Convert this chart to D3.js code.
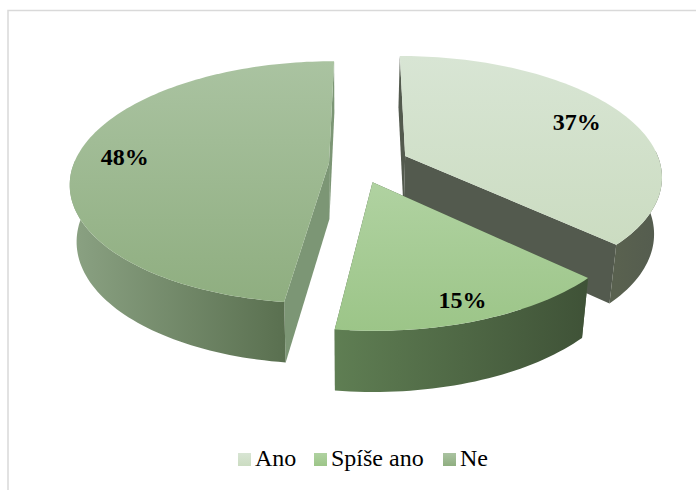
<!DOCTYPE html>
<html lang="en">
<head>
<meta charset="utf-8">
<script src="https://d3js.org/d3.v7.min.js"></script>
<style type="text/css">
body { margin: 0; background: #fff; }
text { font-family: "Liberation Serif", serif; fill: #000; }
</style>
</head>
<body>
<div id="chart"></div>
<script type="text/javascript">

// data
var categories = ["Ano", "Spíše ano", "Ne"];
var values = [37, 15, 48];
var labelText = ["37%", "15%", "48%"];

// colours: top surface, outer wall, cut face
var topColors = [["#d8e5d4", "#cbdcc1"], ["#b0d2a1", "#9cc588"], ["#aac3a1", "#8fae80"]];
var wallColors = [["#59614f", "#545c4f"], ["#5f7e53", "#3f5237"], ["#8ba283", "#5a7050"]];
var faceColors = ["#535a4e", "#4a5f41", "#7c9675"];

// layout: slice shift in plane units, label distance from apex
var explode = [[0.155, 0.06], [0.025, -0.16], [-0.145, 0.0]];
var labelRadius = [0.785, 0.87, 0.81];
var legendX = [238, 314, 443];

var width = 696, height = 490;

// plane to screen perspective
var cx = 366, cy = 163, rx = 255, ry = 118, persp = 0.159, vanishX = 345;
var depth = 56, shrink = 0.975;

function project(u, v) {
  var w = 1 + persp * v;
  return [cx + rx * u / w, cy - ry * v / w];
}
function lower(u, v) {
  var p = project(u, v);
  return [vanishX + (p[0] - vanishX) * shrink, p[1] + depth * (1 - 0.08 * v)];
}

var svg = d3.select("#chart").append("svg")
  .attr("width", width).attr("height", height)
  .style("display", "block");

var defs = svg.append("defs");

function gradient(id, horizontal, c0, c1, x0, x1) {
  var g = defs.append("linearGradient").attr("id", id)
    .attr("gradientUnits", horizontal === null ? "objectBoundingBox" : "userSpaceOnUse");
  if (horizontal === null) {
    g.attr("x1", 0).attr("y1", 0).attr("x2", 0).attr("y2", 1);
  } else if (horizontal) {
    g.attr("x1", x0).attr("y1", 0).attr("x2", x1).attr("y2", 0);
  }
  g.append("stop").attr("offset", 0).attr("stop-color", c0);
  g.append("stop").attr("offset", 1).attr("stop-color", c1);
}

// frame
svg.append("path")
  .attr("d", "M8,490V10.5H696")
  .attr("fill", "none").attr("stroke", "#d9d9d9").attr("stroke-width", 1.5);

var pie = d3.pie().sort(null).value(function(d) { return d; });
var arcs = pie(values);
var line = d3.line();

function sliceAngles(a) {
  var n = Math.ceil((a.endAngle - a.startAngle) * 40);
  return d3.range(n + 1).map(function(i) {
    return a.startAngle + (a.endAngle - a.startAngle) * i / n;
  });
}

// far slices first so the near slice sits over them
var order = [0, 2, 1];
order.forEach(function(i) {
  var a = arcs[i], off = explode[i];
  var angles = sliceAngles(a);
  var topArc = angles.map(function(t) { return project(off[0] + Math.sin(t), off[1] + Math.cos(t)); });
  var lowArc = angles.map(function(t) { return lower(off[0] + Math.sin(t), off[1] + Math.cos(t)); });
  var apexTop = project(off[0], off[1]);
  var apexLow = lower(off[0], off[1]);

  // only the part of the rim that faces the viewer
  var keep = angles.map(function(t) { return Math.cos(t) < 0.05; });
  var wallTop = topArc.filter(function(p, j) { return keep[j]; });
  var wallLow = lowArc.filter(function(p, j) { return keep[j]; });
  var xs = wallTop.map(function(p) { return p[0]; });

  gradient("top" + i, null, topColors[i][0], topColors[i][1]);
  gradient("wall" + i, true, wallColors[i][0], wallColors[i][1], d3.min(xs), d3.max(xs));

  // cut faces
  [topArc[0], topArc[topArc.length - 1]].forEach(function(p, j) {
    var q = j === 0 ? lowArc[0] : lowArc[lowArc.length - 1];
    svg.append("path")
      .attr("d", line([apexTop, p, q, apexLow]) + "Z")
      .attr("fill", faceColors[i]);
  });

  // outer wall
  svg.append("path")
    .attr("d", line(wallTop.concat(wallLow.slice().reverse())) + "Z")
    .attr("fill", "url(#wall" + i + ")");

  // top surface
  svg.append("path")
    .attr("d", line([apexTop].concat(topArc)) + "Z")
    .attr("fill", "url(#top" + i + ")");
});

// value labels
arcs.forEach(function(a, i) {
  var mid = (a.startAngle + a.endAngle) / 2;
  var p = project(explode[i][0] + labelRadius[i] * Math.sin(mid),
                  explode[i][1] + labelRadius[i] * Math.cos(mid));
  svg.append("text")
    .attr("x", p[0]).attr("y", p[1] + 8)
    .attr("text-anchor", "middle")
    .attr("font-size", 24).attr("font-weight", "bold")
    .text(labelText[i]);
});

// legend
categories.forEach(function(name, i) {
  gradient("key" + i, null, topColors[i][0], topColors[i][1]);
  svg.append("rect")
    .attr("x", legendX[i]).attr("y", 453).attr("width", 13).attr("height", 13)
    .attr("fill", "url(#key" + i + ")");
  svg.append("text")
    .attr("x", legendX[i] + 17).attr("y", 466)
    .attr("font-size", 24)
    .text(name);
});

</script>
</body>
</html>
